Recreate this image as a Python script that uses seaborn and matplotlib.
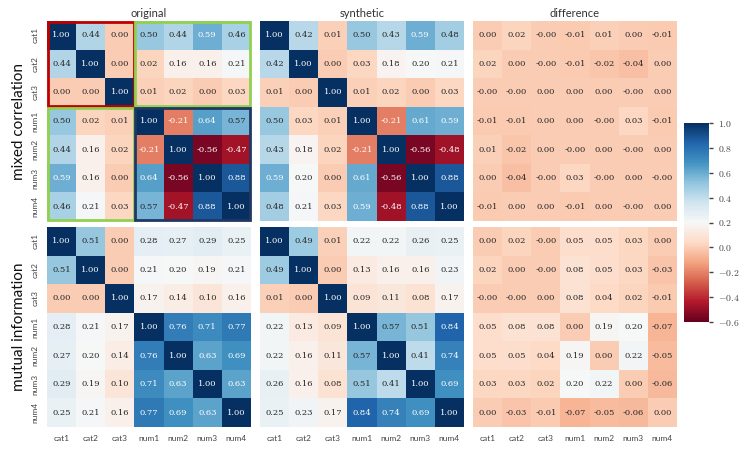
import numpy as np
import seaborn as sns
import matplotlib.pyplot as plt
from matplotlib.patches import Rectangle

labels = ['cat1', 'cat2', 'cat3', 'num1', 'num2', 'num3', 'num4']

# mixed correlation
corr_original = [
    [1.00, 0.44, 0.00, 0.50, 0.44, 0.59, 0.46],
    [0.44, 1.00, 0.00, 0.02, 0.16, 0.16, 0.21],
    [0.00, 0.00, 1.00, 0.01, 0.02, 0.00, 0.03],
    [0.50, 0.02, 0.01, 1.00, -0.21, 0.64, 0.57],
    [0.44, 0.16, 0.02, -0.21, 1.00, -0.56, -0.47],
    [0.59, 0.16, 0.00, 0.64, -0.56, 1.00, 0.88],
    [0.46, 0.21, 0.03, 0.57, -0.47, 0.88, 1.00],
]
corr_synthetic = [
    [1.00, 0.42, 0.01, 0.50, 0.43, 0.59, 0.48],
    [0.42, 1.00, 0.00, 0.03, 0.18, 0.20, 0.21],
    [0.01, 0.00, 1.00, 0.01, 0.02, 0.00, 0.03],
    [0.50, 0.03, 0.01, 1.00, -0.21, 0.61, 0.59],
    [0.43, 0.18, 0.02, -0.21, 1.00, -0.56, -0.48],
    [0.59, 0.20, 0.00, 0.61, -0.56, 1.00, 0.88],
    [0.48, 0.21, 0.03, 0.59, -0.48, 0.88, 1.00],
]
corr_difference = [
    [0.00, 0.02, -0.001, -0.01, 0.01, 0.00, -0.01],
    [0.02, 0.00, -0.001, -0.01, -0.02, -0.04, 0.00],
    [-0.001, -0.001, 0.00, 0.00, 0.00, -0.001, 0.00],
    [-0.01, -0.01, 0.00, 0.00, -0.001, 0.03, -0.01],
    [0.01, -0.02, 0.00, -0.001, 0.00, -0.001, 0.00],
    [0.00, -0.04, -0.001, 0.03, -0.001, 0.00, -0.001],
    [-0.01, 0.00, 0.00, -0.01, 0.00, -0.001, 0.00],
]

# mutual information
mi_original = [
    [1.00, 0.51, 0.00, 0.28, 0.27, 0.29, 0.25],
    [0.51, 1.00, 0.00, 0.21, 0.20, 0.19, 0.21],
    [0.00, 0.00, 1.00, 0.17, 0.14, 0.10, 0.16],
    [0.28, 0.21, 0.17, 1.00, 0.76, 0.71, 0.77],
    [0.27, 0.20, 0.14, 0.76, 1.00, 0.63, 0.69],
    [0.29, 0.19, 0.10, 0.71, 0.63, 1.00, 0.63],
    [0.25, 0.21, 0.16, 0.77, 0.69, 0.63, 1.00],
]
mi_synthetic = [
    [1.00, 0.49, 0.01, 0.22, 0.22, 0.26, 0.25],
    [0.49, 1.00, 0.00, 0.13, 0.16, 0.16, 0.23],
    [0.01, 0.00, 1.00, 0.09, 0.11, 0.08, 0.17],
    [0.22, 0.13, 0.09, 1.00, 0.57, 0.51, 0.84],
    [0.22, 0.16, 0.11, 0.57, 1.00, 0.41, 0.74],
    [0.26, 0.16, 0.08, 0.51, 0.41, 1.00, 0.69],
    [0.25, 0.23, 0.17, 0.84, 0.74, 0.69, 1.00],
]
mi_difference = [
    [0.00, 0.02, -0.001, 0.05, 0.05, 0.03, 0.00],
    [0.02, 0.00, -0.001, 0.08, 0.05, 0.03, -0.03],
    [-0.001, -0.001, 0.00, 0.08, 0.04, 0.02, -0.01],
    [0.05, 0.08, 0.08, 0.00, 0.19, 0.20, -0.07],
    [0.05, 0.05, 0.04, 0.19, 0.00, 0.22, -0.05],
    [0.03, 0.03, 0.02, 0.20, 0.22, 0.00, -0.06],
    [0.00, -0.03, -0.01, -0.07, -0.05, -0.06, 0.00],
]

col_titles = ['original', 'synthetic', 'difference']
row_titles = ['mixed correlation', 'mutual information']
grid = [[corr_original, corr_synthetic, corr_difference],
        [mi_original, mi_synthetic, mi_difference]]

sns.set_theme(style='white')
plt.rcParams['font.family'] = ['Lato', 'DejaVu Sans']
plt.rcParams['mathtext.fontset'] = 'cm'

fig = plt.figure(figsize=(7.48, 4.54), dpi=100)

lefts = [47 / 748, 260 / 748, 473 / 748]
bottoms = [1 - 221 / 454, 1 - 427 / 454]
w, h = 204 / 748, 200 / 454
cax = fig.add_axes([684 / 748, 1 - 322 / 454, 25 / 748, 199 / 454])

for r in range(2):
    for c in range(3):
        ax = fig.add_axes([lefts[c], bottoms[r], w, h])
        sns.heatmap(np.array(grid[r][c]), ax=ax, cmap='RdBu', vmin=-0.6, vmax=1.0,
                    annot=True, fmt='.2f',
                    annot_kws={'fontsize': 6, 'family': 'DejaVu Serif'},
                    cbar=(r == 0 and c == 0), cbar_ax=cax if (r == 0 and c == 0) else None,
                    xticklabels=labels, yticklabels=labels)
        ax.tick_params(length=0, labelsize=6, colors='#444444', pad=6)
        if r == 0:
            ax.set_title(col_titles[c], fontsize=8, color='#333333', pad=3)
            ax.set_xticklabels([])
        else:
            plt.setp(ax.get_xticklabels(), rotation=0)
        if c == 0:
            ax.set_ylabel(row_titles[r], fontsize=11, color='#111111', labelpad=4)
            plt.setp(ax.get_yticklabels(), rotation=90, va='center')
        else:
            ax.set_yticklabels([])
        if r == 0 and c == 0:
            # block outlines: cat/cat, cat/num, num/num
            ax.add_patch(Rectangle((0.03, 0.03), 2.94, 2.94, fill=False, ec='#c00000', lw=2, clip_on=False))
            ax.add_patch(Rectangle((3.03, 0.03), 3.94, 2.94, fill=False, ec='#92d050', lw=2, clip_on=False))
            ax.add_patch(Rectangle((0.03, 3.03), 2.94, 3.94, fill=False, ec='#92d050', lw=2, clip_on=False))
            ax.add_patch(Rectangle((3.03, 3.03), 3.94, 3.94, fill=False, ec='#1f3864', lw=2, clip_on=False))

cax.set_yticks([1.0, 0.8, 0.6, 0.4, 0.2, 0.0, -0.2, -0.4, -0.6])
cax.set_yticklabels(['$%.1f$' % t for t in [1.0, 0.8, 0.6, 0.4, 0.2, 0.0, -0.2, -0.4, -0.6]])
cax.tick_params(labelsize=7, length=3, width=1, colors='#444444')

fig.savefig('out.png', dpi=100)
